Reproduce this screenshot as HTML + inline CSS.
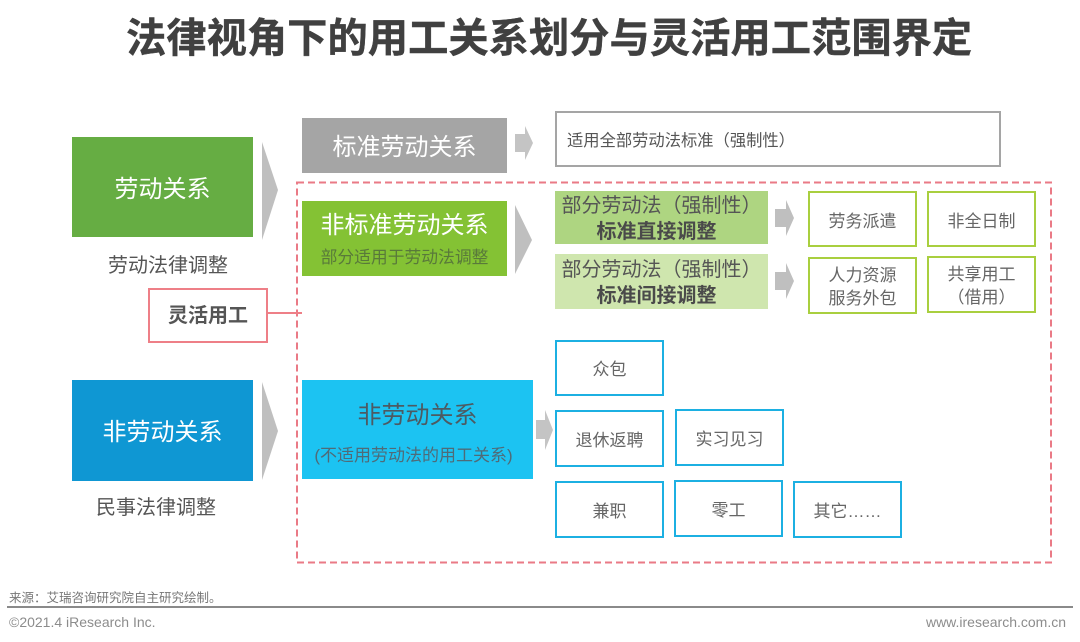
<!DOCTYPE html>
<html lang="zh">
<head>
<meta charset="utf-8">
<title>法律视角下的用工关系划分与灵活用工范围界定</title>
<style>
html,body{margin:0;padding:0;background:#fff;}
body{width:1080px;height:642px;position:relative;overflow:hidden;font-family:"Liberation Sans","Noto Sans CJK SC",sans-serif;color:#595959;}
.b{position:absolute;box-sizing:border-box;display:flex;flex-direction:column;align-items:center;justify-content:center;text-align:center;line-height:1.2;white-space:nowrap;padding-top:5px;}
.t{position:absolute;white-space:nowrap;line-height:1;}
.g{border:2.5px solid #a9cf3f;background:#fff;font-size:17px;line-height:23.500px;color:#666;}
.c{border:2.5px solid #1cb0e2;background:#fff;font-size:17px;color:#666;}
svg{position:absolute;left:0;top:0;}
</style>
</head>
<body>
<div class="t" style="left:126px;top:19px;width:846px;text-align:center;font-size:40.300px;font-weight:700;color:#404040;-webkit-text-stroke:.4px #404040;">法律视角下的用工关系划分与灵活用工范围界定</div>

<svg width="1080" height="642" viewBox="0 0 1080 642">
  <rect x="297" y="182.500" width="754" height="380" fill="none" stroke="#ea7a86" stroke-width="2" stroke-dasharray="7 4"/>
  <line x1="268" y1="313" x2="302" y2="313" stroke="#ee7f87" stroke-width="2"/>
  <polygon points="262,142 278,190 262,240" fill="#bfbfbf"/>
  <polygon points="262,382 278,431 262,480" fill="#bfbfbf"/>
  <polygon points="515,205 532,240 515,274" fill="#bfbfbf"/>
  <polygon points="515,134 525,134 525,126 533,143 525,160 525,152 515,152" fill="#c4c4c4"/>
  <polygon points="775,209 786,209 786,200 794,218 786,236 786,227 775,227" fill="#bfbfbf"/>
  <polygon points="775,272 786,272 786,263 794,281 786,299 786,290 775,290" fill="#bfbfbf"/>
  <polygon points="536,420 545,420 545,410 553,430 545,450 545,439 536,439" fill="#c4c4c4"/>
</svg>

<div class="b" style="left:72px;top:137px;width:181px;height:100px;background:#66ad43;color:#fff;font-size:24px;padding-top:6px;">劳动关系</div>
<div class="t" style="left:108px;top:256px;font-size:20px;color:#555;">劳动法律调整</div>
<div class="b" style="left:148px;top:288px;width:120px;height:55px;border:2.5px solid #ee7f87;background:#fff;font-size:20px;font-weight:700;color:#555;padding-top:0;">灵活用工</div>
<div class="b" style="left:72px;top:380px;width:181px;height:101px;background:#0f97d3;color:#fff;font-size:24px;">非劳动关系</div>
<div class="t" style="left:96px;top:498px;font-size:20px;color:#555;">民事法律调整</div>

<div class="b" style="left:302px;top:118px;width:205px;height:55px;background:#a5a5a5;color:#fff;font-size:24px;">标准劳动关系</div>
<div class="b" style="left:555px;top:111px;width:446px;height:56px;border:2.5px solid #a5a5a5;background:#fff;font-size:16.300px;color:#555;align-items:flex-start;padding-left:10px;">适用全部劳动法标准（强制性）</div>

<div class="b" style="left:302px;top:201px;width:205px;height:75px;background:#84c234;padding-top:4px;">
  <div style="font-size:24px;color:#fff;line-height:30px;">非标准劳动关系</div>
  <div style="font-size:16.800px;color:#59793a;line-height:24px;margin-top:5px;">部分适用于劳动法调整</div>
</div>

<div class="b" style="left:555px;top:191px;width:213px;height:53px;background:#aed581;font-size:20px;line-height:26px;color:#555;padding-top:3px;">
  <div>部分劳动法（强制性）</div><div style="font-weight:700;color:#4a4a4a;padding-right:10px;">标准直接调整</div>
</div>
<div class="b" style="left:555px;top:254px;width:213px;height:55px;background:#cfe6ae;font-size:20px;line-height:26px;color:#555;padding-top:3px;">
  <div>部分劳动法（强制性）</div><div style="font-weight:700;color:#4a4a4a;padding-right:10px;">标准间接调整</div>
</div>

<div class="b g" style="left:808px;top:191px;width:109px;height:56px;">劳务派遣</div>
<div class="b g" style="left:927px;top:191px;width:109px;height:56px;">非全日制</div>
<div class="b g" style="left:808px;top:257px;width:109px;height:57px;padding-top:3px;"><div>人力资源</div><div>服务外包</div></div>
<div class="b g" style="left:927px;top:256px;width:109px;height:57px;padding-top:3px;"><div>共享用工</div><div>（借用）</div></div>

<div class="b" style="left:302px;top:380px;width:231px;height:99px;background:#1cc3f2;padding-top:7px;">
  <div style="font-size:24px;color:#4d5a62;line-height:30px;margin-bottom:15px;">非劳动关系</div>
  <div style="font-size:17px;color:#4f6b78;line-height:20px;padding-right:8px;">(不适用劳动法的用工关系)</div>
</div>

<div class="b c" style="left:555px;top:340px;width:109px;height:56px;">众包</div>
<div class="b c" style="left:555px;top:410px;width:109px;height:57px;">退休返聘</div>
<div class="b c" style="left:675px;top:409px;width:109px;height:57px;">实习见习</div>
<div class="b c" style="left:555px;top:481px;width:109px;height:57px;">兼职</div>
<div class="b c" style="left:674px;top:480px;width:109px;height:57px;">零工</div>
<div class="b c" style="left:793px;top:481px;width:109px;height:57px;">其它……</div>

<div class="t" style="left:9px;top:592px;font-size:12.500px;color:#777;">来源：艾瑞咨询研究院自主研究绘制。</div>
<div style="position:absolute;left:7px;top:606px;width:1066px;height:2px;background:#8a8a8a;"></div>
<div class="t" style="left:9px;top:615px;font-size:14px;color:#8c8c8c;">©2021.4 iResearch Inc.</div>
<div class="t" style="right:14px;top:615px;font-size:14px;color:#8c8c8c;">www.iresearch.com.cn</div>
</body>
</html>
